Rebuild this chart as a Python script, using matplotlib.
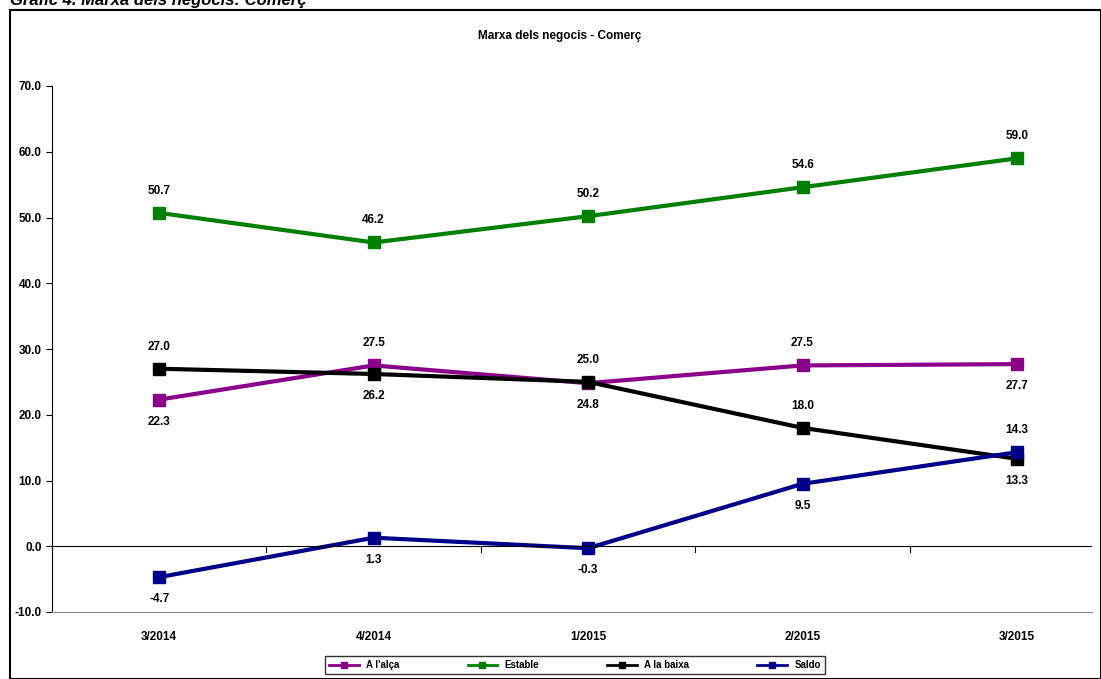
import matplotlib.pyplot as plt
from matplotlib.patches import Rectangle

periods = ["3/2014", "4/2014", "1/2015", "2/2015", "3/2015"]
alca = [22.3, 27.5, 24.8, 27.5, 27.7]
estable = [50.7, 46.2, 50.2, 54.6, 59.0]
baixa = [27.0, 26.2, 25.0, 18.0, 13.3]
saldo = [-4.7, 1.3, -0.3, 9.5, 14.3]

# +1 label above the point, -1 below
alca_pos = [-1, 1, -1, 1, -1]
estable_pos = [1, 1, 1, 1, 1]
baixa_pos = [1, -1, 1, 1, -1]
saldo_pos = [-1, -1, -1, -1, 1]

plt.rcParams['font.family'] = ['Liberation Sans', 'DejaVu Sans']
fig = plt.figure(figsize=(11.01, 6.79), dpi=100)
W, H = 1101, 679
fig.patches.append(Rectangle((10 / W, 0), 1 - 10 / W, 1 - 10 / H, transform=fig.transFigure,
                             fill=False, edgecolor="black", linewidth=1.5))
fig.text(10 / W, 1 - 1 / H, "Gràfic 4. Marxa dels negocis: Comerç", fontsize=12,
         fontweight="bold", style="italic", va="center", ha="left")
fig.text(560 / W, 1 - 36 / H, "Marxa dels negocis - Comerç", fontsize=8.5,
         fontweight="bold", ha="center", va="center")

ax = fig.add_axes([52 / W, 1 - 612 / H, (1092 - 52) / W, (612 - 86) / H])
x = range(len(periods))
series = [(alca, alca_pos, "#8B008B", "A l'alça"),
          (estable, estable_pos, "#008000", "Estable"),
          (baixa, baixa_pos, "black", "A la baixa"),
          (saldo, saldo_pos, "#00008B", "Saldo")]
for vals, pos, col, name in series:
    ax.plot(x, vals, color=col, linewidth=3, marker="s", markersize=9, label=name)
    for i, (v, p) in enumerate(zip(vals, pos)):
        ax.annotate(f"{v:.1f}", (i, v), xytext=(0, 16 * p), textcoords="offset points",
                    ha="center", va="center", fontsize=8.5, fontweight="bold")

ax.set_xlim(-0.5, 4.35)
ax.set_ylim(-10, 70)
ax.set_yticks(range(-10, 71, 10))
ax.set_yticklabels([f"{v:.1f}" for v in range(-10, 71, 10)], fontsize=8.5, fontweight="bold")
ax.set_xticks(list(x))
ax.set_xticklabels(periods, fontsize=8.5, fontweight="bold")
ax.tick_params(axis="x", length=0, pad=14)
ax.tick_params(axis="y", length=4)
ax.axhline(0, color="black", linewidth=0.8)
ax.spines["top"].set_visible(False)
ax.spines["right"].set_visible(False)
ax.spines["bottom"].set_color("#888888")
for b in [0.5, 1.5, 2.5, 3.5]:
    ax.plot([b, b], [0, -0.8], color="black", linewidth=0.8)

leg = fig.legend(loc="center", bbox_to_anchor=(575 / W, 1 - 665 / H), ncol=4,
                 frameon=True, fancybox=False, edgecolor="black", markerscale=0.5,
                 handlelength=3, columnspacing=7, prop={"weight": "bold", "size": 7})
for h in leg.legend_handles:
    h.set_linewidth(2)
fig.savefig("out.png", dpi=100)
